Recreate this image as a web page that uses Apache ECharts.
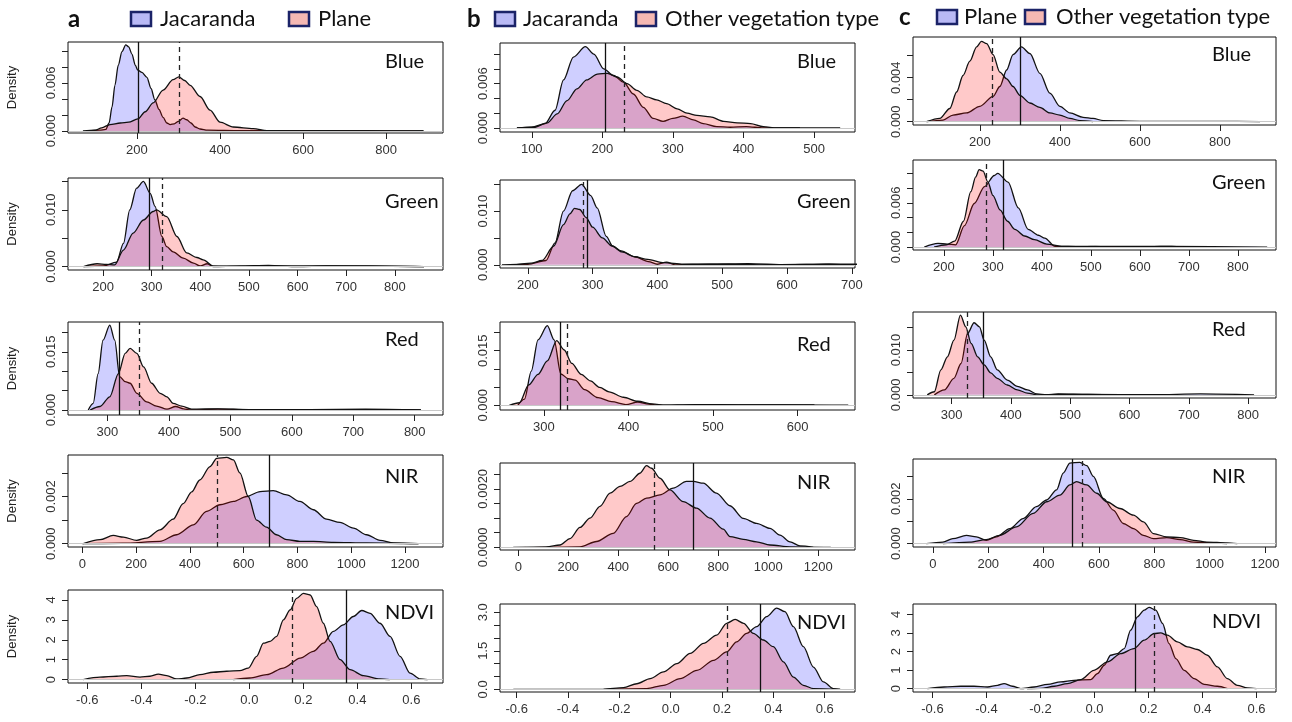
<!DOCTYPE html>
<html><head><meta charset="utf-8">
<script src="https://cdn.jsdelivr.net/npm/echarts@6/dist/echarts.min.js"></script>
<style>html,body{margin:0;padding:0;background:#fff}#chart{width:1292px;height:722px}</style>
</head><body><div id="chart"></div>
<script>
// ---------------- DATA ----------------
const bands = ['Blue', 'Green', 'Red', 'NIR', 'NDVI'];
const legendA = ['Jacaranda', 'Plane'];
const legendB = ['Jacaranda', 'Other vegetation type'];
const legendC = ['Plane', 'Other vegetation type'];

// Panel a : Jacaranda (blue) vs Plane (red)
const aBlueJac = [[80,0],[110,0.0001],[125,0.0002],[133,0.001],[140,0.003],[147,0.0057],[155,0.0082],[164,0.0099],[173,0.01075],[180,0.0105],[188,0.0096],[196,0.0082],[202,0.0076],[212,0.0073],[224,0.0067],[234,0.0053],[243,0.0039],[253,0.0027],[263,0.0017],[272,0.001],[280,0.0008],[290,0.0009],[300,0.0012],[311,0.0016],[320,0.0014],[330,0.001],[340,0.0005],[352,0.00025],[370,0.0001],[450,0.00003],[550,0.00004],[650,0.00003],[750,0.00003],[890,0]];
const aBluePlane = [[70,0],[100,0.0001],[115,0.0004],[135,0.0008],[160,0.001],[180,0.0011],[202,0.0015],[220,0.0024],[239,0.0035],[263,0.0051],[287,0.0064],[301,0.00675],[315,0.0063],[328,0.0057],[352,0.0043],[376,0.0026],[400,0.0011],[432,0.0005],[480,0.0003],[513,0.00005],[560,0.00002],[650,0.00003],[750,0.00002],[890,0]];
const aGreenJac = [[160,0],[200,0.0001],[228,0.0008],[242,0.0041],[255,0.01],[269,0.0138],[283,0.015],[297,0.0129],[307,0.0106],[321,0.0053],[331,0.0035],[344,0.0026],[365,0.0015],[386,0.0006],[400,0.0001],[414,0.0005],[427,0],[480,0.0001],[540,0.0002],[600,0],[660,0.0001],[750,0.0001],[860,0]];
const aGreenPlane = [[160,0],[188,0.0005],[207,0.0004],[224,0.0003],[242,0.0029],[262,0.0059],[283,0.0082],[303,0.0097],[310,0.01],[331,0.0088],[352,0.0053],[372,0.0024],[393,0.0016],[406,0.0012],[427,0.0001],[480,0.00005],[540,0.0001],[660,0.0001],[860,0]];
const aRedJac = [[269,0],[277,0.0017],[285,0.0094],[293,0.018],[304,0.0219],[312,0.018],[320,0.0086],[329,0.0073],[337,0.0069],[348,0.0043],[364,0.0021],[380,0.001],[397,0.0002],[411,0.0009],[424,0.0003],[435,0],[480,0.0002],[530,0.0001],[620,0.0001],[720,0.0001],[810,0]];
const aRedPlane = [[272,0],[288,0.0009],[304,0.0034],[318,0.0094],[329,0.0146],[337,0.0159],[348,0.0146],[359,0.0111],[372,0.0069],[386,0.0043],[397,0.0034],[407,0.0017],[421,0.001],[437,0.0002],[480,0.0003],[530,0.0001],[630,0.0001],[720,0.0002],[810,0]];
const aNirJac = [[0,0],[150,0.00002],[289,0.0001],[351,0.00038],[413,0.0008],[462,0.00137],[512,0.00165],[562,0.00179],[611,0.002],[661,0.00221],[710,0.00225],[760,0.00207],[809,0.00179],[859,0.00144],[908,0.00104],[958,0.0009],[1008,0.00066],[1057,0.00038],[1107,0.00014],[1157,0.00003],[1250,0]];
const aNirPlane = [[4,0],[66,0.00017],[115,0.00035],[153,0.00028],[202,0.00014],[239,0.00024],[289,0.00059],[338,0.00104],[375,0.0017],[407,0.0022],[437,0.0027],[475,0.00327],[500,0.00362],[537,0.00366],[562,0.00355],[586,0.003],[617,0.002],[648,0.001],[685,0.0007],[722,0.00038],[760,0.00017],[809,0.0001],[860,0.0001],[933,0.00006],[1057,0.00003],[1250,0]];
const aNdviJac = [[-0.06,0],[0.001,0.08],[0.064,0.25],[0.126,0.58],[0.188,1.08],[0.237,1.42],[0.274,1.83],[0.311,2.42],[0.348,2.75],[0.385,3.17],[0.416,3.47],[0.447,3.33],[0.484,2.83],[0.521,2.17],[0.558,1.17],[0.595,0.33],[0.632,0.03],[0.66,0]];
const aNdviPlane = [[-0.615,0],[-0.553,0.12],[-0.491,0.17],[-0.454,0.2],[-0.405,0.13],[-0.368,0.17],[-0.337,0.28],[-0.306,0.2],[-0.269,0.03],[-0.232,0.08],[-0.183,0.25],[-0.133,0.37],[-0.084,0.42],[-0.035,0.45],[-0.004,0.58],[0.027,1.17],[0.052,1.83],[0.077,1.92],[0.101,2.17],[0.126,3.0],[0.151,3.5],[0.175,4.08],[0.2,4.33],[0.225,4.25],[0.249,3.67],[0.274,2.83],[0.299,1.92],[0.336,1.0],[0.373,0.5],[0.422,0.2],[0.484,0.03],[0.52,0]];

// Panel b : Jacaranda (blue) vs Other vegetation (red)
const bBlueJac = [[79,0],[100,0.0001],[119,0.0006],[133,0.0024],[145,0.0065],[159,0.0096],[176,0.011],[188,0.01],[202,0.008],[216,0.0071],[230,0.0062],[244,0.0046],[258,0.0028],[272,0.0013],[286,0.0009],[300,0.0013],[314,0.0016],[329,0.0011],[343,0.0006],[362,0.0002],[381,0.0001],[404,0.0002],[428,0],[480,0]];
const bBlueOther = [[79,0],[103,0.0001],[122,0.0007],[136,0.0019],[150,0.0037],[164,0.0053],[178,0.0065],[193,0.0073],[207,0.0074],[221,0.0069],[235,0.006],[249,0.0051],[263,0.0042],[277,0.0038],[291,0.0033],[306,0.0026],[320,0.002],[334,0.0017],[353,0.0015],[372,0.0009],[391,0.0007],[410,0.0006],[428,0.0002],[447,0],[537,0]];
const bGreenJac = aGreenJac;
const bGreenOther = [[180,0],[205,0.0003],[222,0.0008],[240,0.0035],[255,0.0075],[265,0.0095],[272,0.0105],[280,0.0103],[290,0.0088],[300,0.007],[315,0.005],[330,0.0035],[345,0.0024],[365,0.0015],[385,0.001],[410,0.0004],[440,0.0001],[500,0.0001],[560,0],[620,0.00005],[665,0.0001],[690,0]];
const bRedJac = aRedJac.filter(p => p[0] <= 660);
const bRedOther = [[259,0],[271,0.0007],[282,0.0056],[293,0.0085],[304,0.0122],[315,0.0178],[324,0.0152],[333,0.0115],[344,0.0085],[355,0.0067],[366,0.0049],[377,0.0037],[394,0.0022],[411,0.0011],[428,0.0004],[444,0],[480,0.0001],[530,0.0001],[640,0.00005],[660,0]];
const bNirJac = [[113,0],[247,0.00002],[313,0.0002],[380,0.00048],[433,0.00105],[473,0.0015],[513,0.00168],[567,0.00179],[620,0.00202],[673,0.00225],[700,0.00225],[740,0.00219],[793,0.00185],[847,0.00142],[900,0.00099],[953,0.00082],[1007,0.00065],[1047,0.00042],[1087,0.00019],[1127,0.00005],[1180,0]];
const bNirOther = [[-20,0],[113,0.00002],[167,0.00008],[207,0.0003],[247,0.00068],[287,0.001],[327,0.0014],[367,0.00185],[407,0.00208],[447,0.00225],[487,0.00253],[513,0.00279],[533,0.0027],[567,0.00236],[607,0.00196],[660,0.00156],[713,0.00134],[767,0.001],[820,0.00062],[847,0.00037],[900,0.00027],[953,0.00019],[1007,0.00008],[1087,0.00002],[1250,0]];
const bNdviJac = [[-0.262,0],[-0.093,0.03],[-0.028,0.16],[0.037,0.42],[0.102,0.74],[0.167,1.13],[0.218,1.46],[0.257,1.85],[0.296,2.18],[0.335,2.44],[0.374,2.83],[0.413,3.16],[0.445,3.02],[0.478,2.44],[0.517,1.66],[0.556,0.87],[0.595,0.29],[0.634,0.03],[0.66,0]];
const bNdviOther = [[-0.613,0],[-0.262,0.005],[-0.184,0.07],[-0.132,0.22],[-0.08,0.42],[-0.028,0.68],[0.024,1.0],[0.076,1.4],[0.128,1.79],[0.179,2.11],[0.218,2.57],[0.251,2.72],[0.284,2.57],[0.322,2.18],[0.361,1.92],[0.4,1.66],[0.439,1.07],[0.478,0.48],[0.517,0.16],[0.556,0.03],[0.66,0]];

// Panel c : Plane (blue) vs Other vegetation (red)
const cBluePlane = [[67,0],[108,0.00015],[133,0.0006],[167,0.0008],[200,0.0014],[233,0.0023],[250,0.0032],[267,0.0047],[283,0.0061],[304,0.0068],[325,0.0062],[350,0.0044],[375,0.0026],[400,0.0014],[425,0.0008],[458,0.0004],[483,0.0003],[508,0.0001],[600,0.00003],[700,0.00003],[800,0.00003],[900,0]];
const cBlueOther = [[67,0],[100,0.0003],[125,0.0012],[142,0.0027],[158,0.0042],[175,0.0055],[192,0.0068],[204,0.0073],[217,0.0071],[233,0.0061],[250,0.0045],[267,0.0039],[283,0.0032],[300,0.0024],[325,0.0017],[350,0.0013],[375,0.0008],[400,0.0006],[425,0.0003],[450,0.0001],[483,0]];
const cGreenPlane = aGreenPlane;
const cGreenOther = bGreenOther;
const cRedPlane = [[271,0],[288,0.0011],[304,0.0037],[316,0.007],[327,0.0137],[338,0.0161],[347,0.0152],[355,0.0122],[366,0.0085],[377,0.0056],[394,0.0033],[411,0.0019],[428,0.0011],[444,0.0002],[460,0],[480,0.0002],[530,0.0001],[580,0.00005],[640,0.00005],[720,0.0002],[810,0]];
const cRedOther = bRedOther;
const cNirPlane = [[-24,0],[36,0.00007],[72,0.00022],[121,0.00037],[157,0.0003],[193,0.00015],[229,0.0003],[278,0.00067],[326,0.00112],[374,0.00165],[411,0.00195],[447,0.0024],[471,0.00315],[495,0.0036],[531,0.00363],[556,0.00348],[580,0.003],[616,0.00202],[652,0.0015],[688,0.0009],[725,0.00067],[761,0.00037],[797,0.00022],[845,0.00027],[894,0.00018],[942,0.00007],[1002,0.00003],[1063,0]];
const cNirOther = [[36,0],[133,0.00007],[193,0.00018],[241,0.00037],[302,0.00075],[362,0.00135],[411,0.00187],[459,0.00217],[495,0.00262],[519,0.00277],[556,0.00262],[592,0.00225],[628,0.00187],[676,0.00157],[725,0.00127],[761,0.00097],[797,0.00045],[845,0.0003],[894,0.00027],[942,0.00015],[990,0.00007],[1063,0.00003],[1100,0]];
const cNdviPlane = [[-0.619,0],[-0.557,0.09],[-0.495,0.13],[-0.446,0.13],[-0.396,0.09],[-0.359,0.18],[-0.335,0.27],[-0.304,0.13],[-0.273,0],[-0.224,0.09],[-0.174,0.23],[-0.125,0.36],[-0.076,0.45],[-0.014,0.49],[0.011,0.81],[0.036,1.26],[0.06,1.8],[0.085,1.89],[0.11,2.16],[0.134,3.15],[0.159,3.87],[0.184,4.23],[0.202,4.38],[0.227,4.23],[0.252,3.51],[0.276,2.43],[0.301,1.62],[0.332,0.99],[0.369,0.54],[0.406,0.23],[0.455,0.13],[0.492,0]];
const cNdviOther = [[-0.25,0],[-0.199,0.02],[-0.149,0.13],[-0.1,0.27],[-0.051,0.49],[-0.002,0.99],[0.048,1.44],[0.097,1.89],[0.146,2.16],[0.184,2.61],[0.221,2.97],[0.245,3.0],[0.27,2.88],[0.307,2.52],[0.344,2.25],[0.381,2.11],[0.418,1.8],[0.455,1.17],[0.492,0.54],[0.529,0.18],[0.566,0.04],[0.6,0]];

// Mean lines (solid = first group, dashed = second group), per band
const aSolid = [202, 295, 319, 695, 0.36];
const aDashed = [301, 322, 352, 502, 0.157];
const bSolid = [204, 292, 319, 700, 0.355];
const bDashed = [231, 286, 327, 543, 0.222];
const cSolid = [302, 322, 353, 502, 0.153];
const cDashed = [232, 286, 327, 540, 0.224];

// Tick values
const xTicksA = [[200,400,600,800],[200,300,400,500,600,700,800],[300,400,500,600,700,800],[0,200,400,600,800,1000,1200],[-0.6,-0.4,-0.2,0,0.2,0.4,0.6]];
const xTicksB = [[100,200,300,400,500],[200,300,400,500,600,700],[300,400,500,600],[0,200,400,600,800,1000,1200],[-0.6,-0.4,-0.2,0,0.2,0.4,0.6]];
const xTicksC = [[200,400,600,800],[200,300,400,500,600,700,800],[300,400,500,600,700,800],[0,200,400,600,800,1000,1200],[-0.6,-0.4,-0.2,0,0.2,0.4,0.6]];
const yTicksA = [[0,0.002,0.004,0.006,0.008,0.010],[0,0.005,0.010,0.015],[0,0.005,0.010,0.015,0.020],[0,0.001,0.002,0.003],[0,1,2,3,4]];
const yLabelsA = [[0,0.006],[0,0.010],[0,0.015],[0,0.002],[0,1,2,3,4]];
const yTicksB = [[0,0.002,0.004,0.006,0.008,0.010],[0,0.005,0.010,0.015],[0,0.005,0.010,0.015,0.020],[0,0.0005,0.001,0.0015,0.002,0.0025],[0,0.5,1,1.5,2,2.5,3]];
const yLabelsB = [[0,0.006],[0,0.010],[0,0.015],[0,0.002],[0,1.5,3]];
const yTicksC = [[0,0.002,0.004,0.006],[0,0.002,0.004,0.006,0.008,0.010],[0,0.005,0.010,0.015],[0,0.001,0.002,0.003],[0,1,2,3,4]];
const yLabelsC = [[0,0.004],[0,0.006],[0,0.010],[0,0.002],[0,1,2,3,4]];

// ---------------- LAYOUT (pixels / axis extents) ----------------
const boxes = [
  [68,42,375,91],[68,178,375,92],[68,322,375,93],[68,455,375,92],[68,590,375,93],
  [500,43,355,89],[500,180,355,88],[500,322,355,88],[500,463,355,87],[500,604,355,88],
  [913,37,363,88],[913,160,363,90],[913,312,363,86],[913,459,363,88],[913,604,363,88]
];
const xExt = [[34,937],[128,899],[236,846],[-53,1341],[-0.6715,0.717],
  [55,558],[157,705],[248,668],[-73,1347],[-0.665,0.718],
  [33,940],[137,878],[235,847],[-72,1240],[-0.672,0.672]];
const yExt = [[-0.00025,0.0111],[-0.0006,0.0156],[-0.0013,0.0227],[-0.00014,0.00376],[-0.17,4.5],
  [-0.00054,0.0115],[-0.0006,0.0158],[-0.0013,0.0229],[-0.00009,0.00288],[-0.1,3.32],
  [-0.0003,0.0077],[-0.0004,0.0118],[-0.0007,0.0185],[-0.00015,0.00378],[-0.18,4.56]];
const yDec = [3,3,3,3,0, 3,3,3,4,1, 3,3,3,3,0];
const titleX = [385, 797, 1212];
const titleY = [[62,202,340,477,613],[62,202,345,483,623],[55,183,330,477,622]];

const seriesData = [
  [aBlueJac,aBluePlane],[aGreenJac,aGreenPlane],[aRedJac,aRedPlane],[aNirJac,aNirPlane],[aNdviJac,aNdviPlane],
  [bBlueJac,bBlueOther],[bGreenJac,bGreenOther],[bRedJac,bRedOther],[bNirJac,bNirOther],[bNdviJac,bNdviOther],
  [cBluePlane,cBlueOther],[cGreenPlane,cGreenOther],[cRedPlane,cRedOther],[cNirPlane,cNirOther],[cNdviPlane,cNdviOther]
];
const solids = aSolid.concat(bSolid, cSolid);
const dasheds = aDashed.concat(bDashed, cDashed);
const xTicks = xTicksA.concat(xTicksB, xTicksC);
const yTicks = yTicksA.concat(yTicksB, yTicksC);
const yLabels = yLabelsA.concat(yLabelsB, yLabelsC);

const BLUE = 'rgba(0,0,255,0.27)';
const RED = 'rgba(255,0,0,0.30)';
const TICK_FONT = 'Liberation Sans';

const grid = [], xAxis = [], yAxis = [], series = [];
boxes.forEach((b, i) => {
  grid.push({left: b[0], top: b[1], width: b[2], height: b[3], show: true,
    borderColor: '#111', borderWidth: 1, backgroundColor: 'transparent', containLabel: false});
  const isNdvi = (i % 5) === 4;
  xAxis.push({type: 'value', gridIndex: i, min: xExt[i][0], max: xExt[i][1], position: 'bottom',
    axisLine: {show: false, onZero: false}, splitLine: {show: false},
    axisTick: {show: true, length: 6, customValues: xTicks[i], lineStyle: {color: '#222'}},
    axisLabel: {customValues: xTicks[i], margin: 11, fontSize: 13, fontFamily: TICK_FONT, color: '#333',
      formatter: v => isNdvi ? v.toFixed(1) : String(Math.round(v))}});
  const dec = yDec[i];
  yAxis.push({type: 'value', gridIndex: i, min: yExt[i][0], max: yExt[i][1], position: 'left',
    axisLine: {show: false, onZero: false}, splitLine: {show: false},
    axisTick: {show: true, length: 6, customValues: yTicks[i], lineStyle: {color: '#222'}},
    axisLabel: {customValues: yLabels[i], rotate: 90, margin: 10, fontSize: 13, fontFamily: TICK_FONT, color: '#333',
      formatter: v => v.toFixed(dec)}});
  const common = {type: 'line', xAxisIndex: i, yAxisIndex: i, symbol: 'none', smooth: 0.3,
    smoothMonotone: 'x', silent: true, animation: false,
    lineStyle: {color: '#111', width: 1.3}};
  series.push(Object.assign({}, common, {name: 'g1-' + i, data: seriesData[i][0], areaStyle: {color: BLUE}, z: 2}));
  series.push(Object.assign({}, common, {name: 'g2-' + i, data: seriesData[i][1], areaStyle: {color: RED}, z: 3,
    markLine: {silent: true, symbol: 'none', animation: false, label: {show: false},
      data: [
        {yAxis: 0, lineStyle: {color: '#c8c8c8', width: 1, type: 'solid'}},
        {xAxis: solids[i], lineStyle: {color: '#111', width: 1.3, type: 'solid'}},
        {xAxis: dasheds[i], lineStyle: {color: '#222', width: 1.3, type: [5, 4]}}
      ]}}));
});

// ---------------- TEXT ----------------
const graphic = [];
const HFONT = 'Lato';
function txt(x, y, s, size, weight, align) {
  graphic.push({type: 'text', x: x, y: y, silent: true,
    style: {text: s, fontSize: size, fontFamily: HFONT, fontWeight: weight || 'normal', fill: '#111',
      align: align || 'left', verticalAlign: 'middle'}});
}
function sq(x, y, fill) {
  graphic.push({type: 'rect', silent: true, shape: {x: x, y: y, width: 20, height: 14},
    style: {fill: fill, stroke: '#1b2368', lineWidth: 2.5}});
}
const SQ_BLUE = '#b9b9f5', SQ_RED = '#f5b8b3';
// headers
txt(68, 19, 'a', 24, 'bold'); sq(131, 12, SQ_BLUE); txt(160, 19, legendA[0], 22); sq(289, 12, SQ_RED); txt(318, 19, legendA[1], 22);
txt(467, 19, 'b', 24, 'bold'); sq(495, 12, SQ_BLUE); txt(523, 19, legendB[0], 22); sq(636, 12, SQ_RED); txt(665, 19, legendB[1], 22);
txt(899, 17, 'c', 24, 'bold'); sq(937, 10, SQ_BLUE); txt(964, 17, legendC[0], 22); sq(1025, 10, SQ_RED); txt(1056, 17, legendC[1], 22);
// panel titles
for (let c = 0; c < 3; c++) for (let r = 0; r < 5; r++) txt(titleX[c], titleY[c][r], bands[r], 20);
// Density labels (column a)
for (let r = 0; r < 5; r++) {
  const b = boxes[r];
  graphic.push({type: 'text', x: 12, y: b[1] + b[3] / 2, rotation: Math.PI / 2, silent: true,
    style: {text: 'Density', fontSize: 13, fontFamily: TICK_FONT, fill: '#222', align: 'center', verticalAlign: 'middle'}});
}

const chart = echarts.init(document.getElementById('chart'), null, {renderer: 'canvas'});
chart.setOption({animation: false, backgroundColor: '#fff', grid, xAxis, yAxis, series, graphic});
</script>
</body></html>
